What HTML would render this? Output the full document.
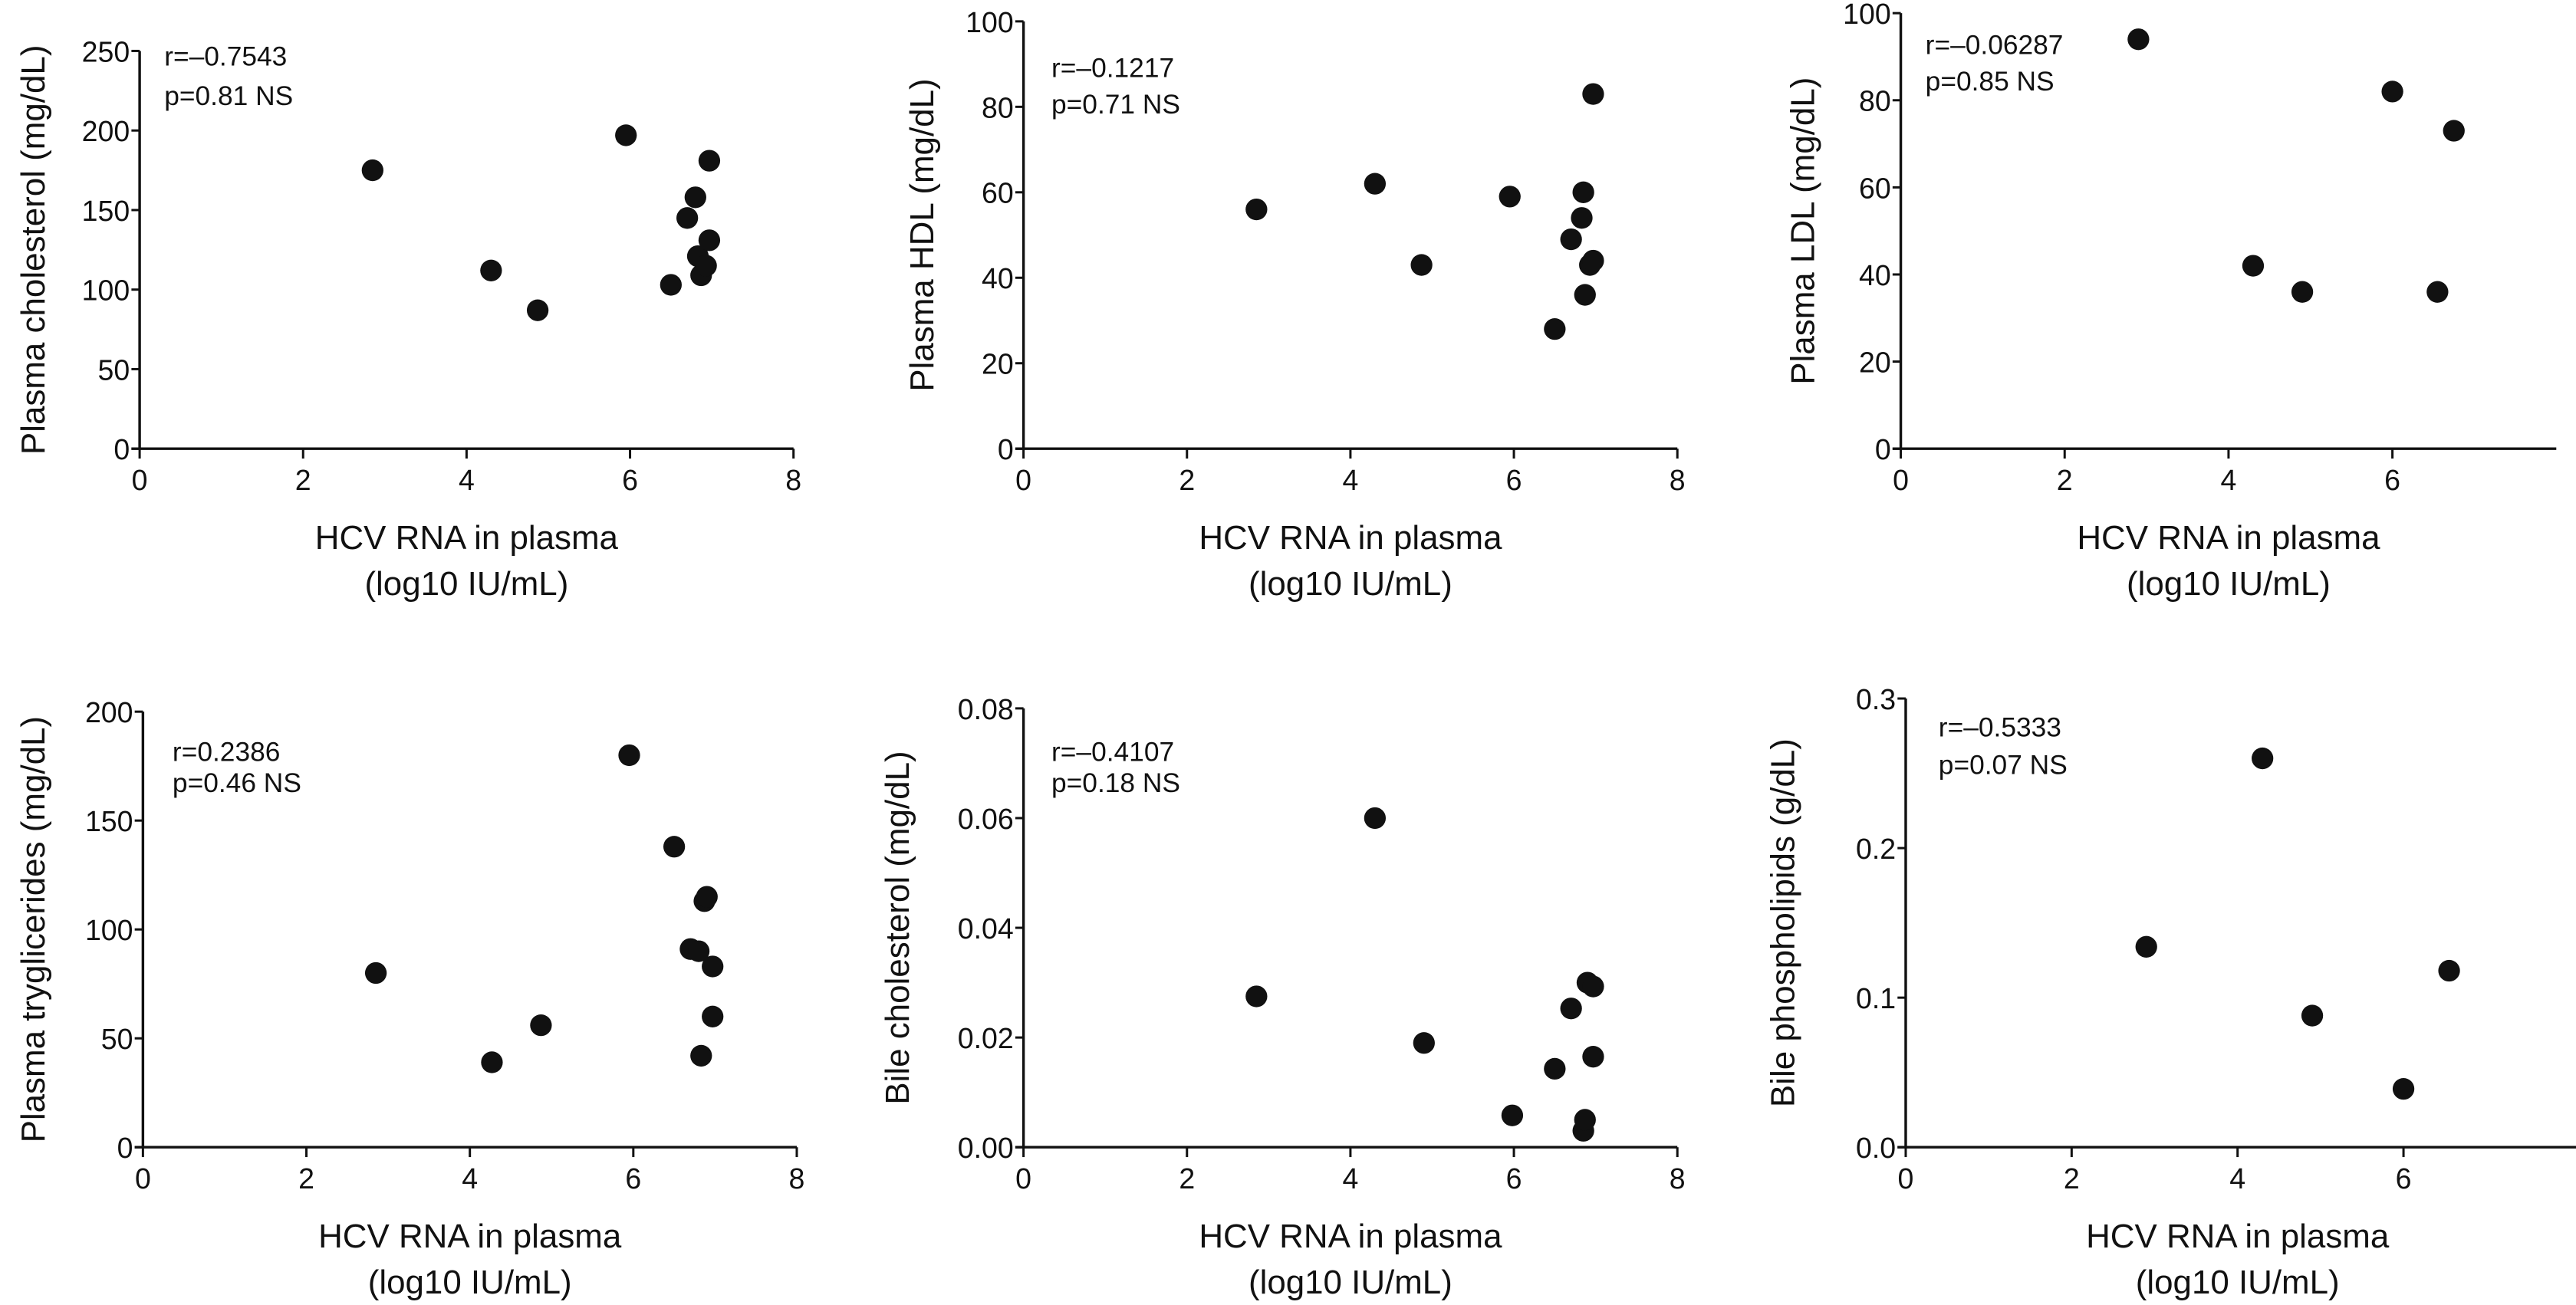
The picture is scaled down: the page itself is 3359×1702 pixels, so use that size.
<!DOCTYPE html>
<html><head><meta charset="utf-8"><style>
html,body{margin:0;padding:0;background:#fff;}
svg{display:block;}
text{font-family:"Liberation Sans",sans-serif;fill:#111;}
</style></head>
<body>
<svg id="chart" width="3359" height="1702" viewBox="0 0 1568 794" preserveAspectRatio="none" xmlns="http://www.w3.org/2000/svg"></svg>
<script>
// ---- data ----
const xTicks = [0, 2, 4, 6, 8];
const p1X = [2.85, 4.3, 4.87, 5.95, 6.5, 6.7, 6.8, 6.83, 6.87, 6.93, 6.97, 6.97];
const p1Y = [175, 112, 87, 197, 103, 145, 158, 121, 109, 115, 131, 181];
const p2X = [2.85, 4.3, 4.87, 5.95, 6.5, 6.7, 6.83, 6.85, 6.87, 6.93, 6.97, 6.97];
const p2Y = [56, 62, 43, 59, 28, 49, 54, 60, 36, 43, 44, 83];
const p3X = [2.9, 4.3, 4.9, 6.0, 6.55, 6.75];
const p3Y = [94, 42, 36, 82, 36, 73];
const p4X = [2.85, 4.27, 4.87, 5.95, 6.5, 6.7, 6.8, 6.83, 6.87, 6.9, 6.97, 6.97];
const p4Y = [80, 39, 56, 180, 138, 91, 90, 42, 113, 115, 83, 60];
const p5X = [2.85, 4.3, 4.9, 5.98, 6.5, 6.7, 6.85, 6.87, 6.9, 6.97, 6.97];
const p5Y = [0.0275, 0.06, 0.019, 0.0058, 0.0143, 0.0253, 0.003, 0.005, 0.03, 0.0293, 0.0165];
const p6X = [2.9, 4.3, 4.9, 6.0, 6.55];
const p6Y = [0.134, 0.26, 0.088, 0.039, 0.118];
const p1Ticks = ["0","50","100","150","200","250"];
const p2Ticks = ["0","20","40","60","80","100"];
const p3Ticks = ["0","20","40","60","80","100"];
const p4Ticks = ["0","50","100","150","200"];
const p5Ticks = ["0.00","0.02","0.04","0.06","0.08"];
const p6Ticks = ["0.0","0.1","0.2","0.3"];

const NS = "http://www.w3.org/2000/svg";
const svg = document.getElementById("chart");
function mk(tag, attrs, parent){
  const e = document.createElementNS(NS, tag);
  for (const k in attrs) e.setAttribute(k, attrs[k]);
  (parent||svg).appendChild(e);
  return e;
}

const panels = [
  {id:"plasma-cholesterol", ax:85, x8:483, xEnd:483, y0:273, yTop:31, ymax:250, ticks:p1Ticks, xs:p1X, ys:p1Y, showX8:true,
   title:"Plasma cholesterol (mg/dL)", tx:20, r:"r=\u20130.7543", p:"p=0.81 NS", ann:[100,40,64]},
  {id:"plasma-hdl", ax:623, x8:1021, xEnd:1021, y0:273, yTop:13, ymax:100, ticks:p2Ticks, xs:p2X, ys:p2Y, showX8:true,
   title:"Plasma HDL (mg/dL)", tx:561, r:"r=\u20130.1217", p:"p=0.71 NS", ann:[640,47,69]},
  {id:"plasma-ldl", ax:1157, x8:1556, xEnd:1556, y0:273, yTop:8, ymax:100, ticks:p3Ticks, xs:p3X, ys:p3Y, showX8:false,
   title:"Plasma LDL (mg/dL)", tx:1097, r:"r=\u20130.06287", p:"p=0.85 NS", ann:[1172,33,55]},
  {id:"plasma-triglycerides", ax:87, x8:485, xEnd:485, y0:698, yTop:433, ymax:200, ticks:p4Ticks, xs:p4X, ys:p4Y, showX8:true,
   title:"Plasma tryglicerides (mg/dL)", tx:20, r:"r=0.2386", p:"p=0.46 NS", ann:[105,463,482]},
  {id:"bile-cholesterol", ax:623, x8:1021, xEnd:1021, y0:698, yTop:431, ymax:0.08, ticks:p5Ticks, xs:p5X, ys:p5Y, showX8:true,
   title:"Bile cholesterol (mg/dL)", tx:546, r:"r=\u20130.4107", p:"p=0.18 NS", ann:[640,463,482]},
  {id:"bile-phospholipids", ax:1160, x8:1564, xEnd:1568, y0:698, yTop:425, ymax:0.3, ticks:p6Ticks, xs:p6X, ys:p6Y, showX8:false,
   title:"Bile phospholipids (g/dL)", tx:1085, r:"r=\u20130.5333", p:"p=0.07 NS", ann:[1180,448,471]}
];

panels.forEach(function(P){
  const g = mk("g", {});
  
  
  const sx = v => P.ax + (v/8)*(P.x8 - P.ax);
  const sy = v => P.y0 - (v/P.ymax)*(P.y0 - P.yTop);
  const ya = mk("line", {x1:P.ax, y1:P.yTop, x2:P.ax, y2:P.y0, stroke:"#111","stroke-width":1.6}, g);
  
  
  const xa = mk("line", {x1:P.ax-5, y1:P.y0, x2:P.xEnd, y2:P.y0, stroke:"#111","stroke-width":1.6}, g);
  
  
  P.ticks.forEach(function(lbl, i){
    const v = P.ymax * i/(P.ticks.length-1);
    const y = sy(v);
    mk("line", {x1:P.ax-5, y1:y, x2:P.ax, y2:y, stroke:"#111","stroke-width":1.4}, g);
    const t = mk("text", {x:P.ax-6, y:y+6.5, "text-anchor":"end","font-size":17.5}, g);
    t.textContent = lbl;
    
    
  });
  xTicks.forEach(function(v){
    if (v === 8 && !P.showX8) return;
    const x = sx(v);
    mk("line", {x1:x, y1:P.y0, x2:x, y2:P.y0+6, stroke:"#111","stroke-width":1.4}, g);
    const t = mk("text", {x:x, y:P.y0+25, "text-anchor":"middle","font-size":17.5}, g);
    t.textContent = String(v);
    
    
  });
  P.xs.forEach(function(xv, i){
    const c = mk("ellipse", {cx:sx(xv), cy:sy(P.ys[i]), rx:6.6, ry:6.6, fill:"#111"}, g);
    
    
  });
  const a1 = mk("text", {x:P.ann[0], y:P.ann[1], "font-size":16.5}, g);
  a1.textContent = P.r;
  
  
  const a2 = mk("text", {x:P.ann[0], y:P.ann[2], "font-size":16.5}, g);
  a2.textContent = P.p;
  
  
  const cx = sx(4);
  const xt1 = mk("text", {x:cx, y:P.y0+61, "text-anchor":"middle","font-size":20.5}, g);
  xt1.textContent = "HCV RNA in plasma";
  
  
  const xt2 = mk("text", {x:cx, y:P.y0+89, "text-anchor":"middle","font-size":20.5}, g);
  xt2.textContent = "(log10 IU/mL)";
  
  
  const ym = (P.y0 + P.yTop)/2;
  const yt = mk("text", {x:P.tx, y:ym, "text-anchor":"middle","font-size":20.5,
    transform:"rotate(-90 "+(P.tx)+" "+ym+")", dy:"0.35em"}, g);
  yt.textContent = P.title;
  
  
});
</script>
</body></html>
